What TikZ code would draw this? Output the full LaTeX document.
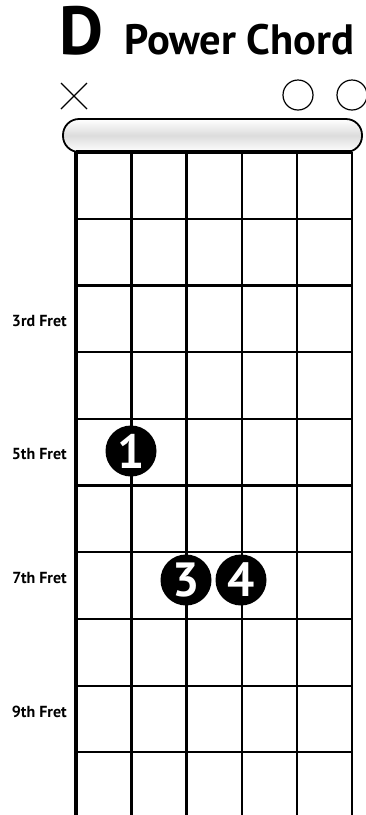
\documentclass[tikz,border=0pt]{standalone}
\usepackage{fontspec}
\setmainfont{PT Sans}
\usepackage{xcolor}
\usepackage{tikz}
\usetikzlibrary{positioning,calc}
\definecolor{ink}{HTML}{000000}
\definecolor{nutgray}{HTML}{DCDCDC}

\begin{document}
\begin{tikzpicture}[x=1pt,y=-1pt,
  lbl/.style={font=\fontsize{16}{18}\selectfont\bfseries,anchor=base east,inner sep=0pt},
  fing/.style={circle,fill=ink,text=white,minimum size=51pt,inner sep=0pt,
               font=\fontsize{48}{50}\selectfont\bfseries},
  fret/.style={ink,line width=2.2pt},
  mute/.style={ink,line width=1.3pt},
  open/.style={circle,draw=ink,line width=1.2pt,minimum size=30pt,inner sep=0pt}]
\useasboundingbox (0,0) rectangle (365,815);
% title
\node[anchor=base west,inner sep=0pt,font=\fontsize{68}{70}\selectfont\bfseries](chord) at (59,54){D};
\node[anchor=base west,inner sep=0pt,font=\fontsize{42.5}{45}\selectfont\bfseries](name) at (124,54){Power Chord};
% nut
\draw[ink,line width=1.8pt,rounded corners=16pt,top color=white,bottom color=white,middle color=nutgray]
  (63,119) rectangle (362,152);
% strings, thick to thin
\foreach \s/\w in {1/4.0,2/3.2,3/2.7,4/2.2,5/1.8,6/1.5}{
  \coordinate (t\s) at ({76+55.2*(\s-1)},152);
  \coordinate (b\s) at ({76+55.2*(\s-1)},820);
  \draw[ink,line width=\w pt] (t\s) -- (b\s);
}
% frets
\draw[fret,line width=3.2pt] (t1) -- (t6);
\foreach \f in {1,...,9}{
  \draw[fret] ($(t1)+(0,66.7*\f)$) -- ($(t6)+(0,66.7*\f)$);
}
% fret labels
\node[lbl](f3) at (67,326){3rd Fret};
\node[lbl](f5) at (67,459){5th Fret};
\node[lbl](f7) at (67,583){7th Fret};
\node[lbl](f9) at (67,717){9th Fret};
% muted / open strings
\coordinate (xm) at (74,96);
\draw[mute] ($(xm)+(-13,-13)$) -- ($(xm)+(13,13)$);
\draw[mute] ($(xm)+(-13,13)$) -- ($(xm)+(13,-13)$);
\node[open](o5) at (298,95){};
\node[open](o6) at (352,95){};
% fingers
\node[fing](d1) at (131,451){1};
\node[fing](d3) at (186,580){3};
\node[fing](d4) at (241,580){4};
\end{tikzpicture}
\end{document}
